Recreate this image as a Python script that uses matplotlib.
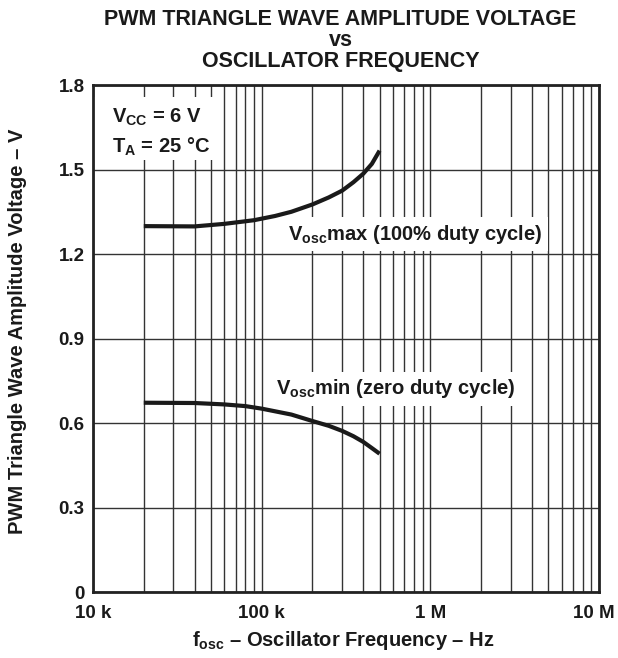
import matplotlib.pyplot as plt
from matplotlib.patches import Rectangle
from matplotlib.transforms import ScaledTranslation
from matplotlib.ticker import FixedLocator, LogLocator, NullFormatter

plt.rcParams['font.family'] = ['Liberation Sans', 'DejaVu Sans']
plt.rcParams['mathtext.fontset'] = 'custom'
plt.rcParams['mathtext.rm'] = 'Liberation Sans:bold'
plt.rcParams['mathtext.bf'] = 'Liberation Sans:bold'
plt.rcParams['mathtext.it'] = 'Liberation Sans:bold'

# Datos
freq_max = [20e3, 40e3, 60e3, 90e3, 120e3, 150e3, 200e3, 250e3, 300e3, 350e3, 400e3, 450e3, 500e3]
vosc_max = [1.299, 1.298, 1.307, 1.320, 1.335, 1.350, 1.376, 1.401, 1.425, 1.455, 1.485, 1.52, 1.567]

freq_min = [20e3, 40e3, 60e3, 80e3, 100e3, 150e3, 200e3, 250e3, 300e3, 350e3, 400e3, 450e3, 500e3]
vosc_min = [0.672, 0.671, 0.666, 0.660, 0.651, 0.630, 0.607, 0.590, 0.572, 0.553, 0.533, 0.511, 0.491]

x_ticks = [1e4, 1e5, 1e6, 1e7]
x_labels = ['10 k', '100 k', '1 M', '10 M']
y_ticks = [0, 0.3, 0.6, 0.9, 1.2, 1.5, 1.8]
y_labels = ['0', '0.3', '0.6', '0.9', '1.2', '1.5', '1.8']

fig = plt.figure(figsize=(6.18, 6.58), dpi=100)
ax = fig.add_axes([0.1505, 0.1003, 0.8188, 0.7705])

ax.set_xscale('log')
ax.set_xlim(1e4, 1e7)
ax.set_ylim(0, 1.8)
ax.set_axisbelow(True)

ax.plot(freq_max, vosc_max, color='#1a1a1a', lw=3, solid_capstyle='butt',
        solid_joinstyle='round', zorder=3)
ax.plot(freq_min, vosc_min, color='#1a1a1a', lw=3, solid_capstyle='butt',
        solid_joinstyle='round', zorder=3)

ax.xaxis.set_major_locator(FixedLocator(x_ticks))
ax.set_xticklabels(x_labels)
ax.xaxis.set_minor_locator(LogLocator(base=10, subs=range(2, 10)))
ax.xaxis.set_minor_formatter(NullFormatter())
ax.set_yticks(y_ticks)
ax.set_yticklabels(y_labels)
ax.tick_params(which='both', length=0, labelsize=13.5)
ax.tick_params(axis='x', pad=9)
ax.tick_params(axis='y', pad=6)
for lbl in ax.get_xticklabels() + ax.get_yticklabels():
    lbl.set_fontweight('bold')
    lbl.set_color('#1a1a1a')
# el "10 M" se corre un poco a la izquierda para no cortarse
last = ax.get_xticklabels()[-1]
last.set_transform(last.get_transform() + ScaledTranslation(-0.05, 0, fig.dpi_scale_trans))

ax.grid(True, which='both', axis='x', color='#333333', lw=1)
ax.grid(True, which='major', axis='y', color='#333333', lw=1)
for s in ax.spines.values():
    s.set_linewidth(2)
    s.set_color('#222222')
    s.set_zorder(5)

# recuadro blanco de condiciones
ax.add_patch(Rectangle((0, 0.852), 0.251, 0.124, transform=ax.transAxes,
                       facecolor='white', edgecolor='none', zorder=1))
ax.text(0.0375, 0.937, '$\\mathbf{V_{CC}}$ = 6 V', transform=ax.transAxes,
        ha='left', va='center', fontsize=14.5, fontweight='bold', color='#1a1a1a', zorder=4)
ax.text(0.0375, 0.878, '$\\mathbf{T_A}$ = 25 °C', transform=ax.transAxes,
        ha='left', va='center', fontsize=14.5, fontweight='bold', color='#1a1a1a', zorder=4)

box = dict(facecolor='white', edgecolor='none', pad=4)
ax.text(8.1e5, 1.27, '$\\mathbf{V_{osc}}$max (100% duty cycle)', ha='center', va='center',
        fontsize=14.5, fontweight='bold', color='#1a1a1a', bbox=box, zorder=4)
ax.text(6.25e5, 0.722, '$\\mathbf{V_{osc}}$min (zero duty cycle)', ha='center', va='center',
        fontsize=14.5, fontweight='bold', color='#1a1a1a', bbox=box, zorder=4)

fig.text(0.551, 0.939, 'PWM TRIANGLE WAVE AMPLITUDE VOLTAGE\nvs\nOSCILLATOR FREQUENCY',
         ha='center', va='center', fontsize=15.5, fontweight='bold', linespacing=1.0,
         color='#1a1a1a')
ax.set_xlabel('$\\mathbf{f_{osc}}$ – Oscillator Frequency – Hz', fontsize=14.5,
              fontweight='bold', color='#1a1a1a')
ax.xaxis.set_label_coords(0.494, -0.095)
ax.xaxis.label.set_va('center')
ax.set_ylabel('PWM Triangle Wave Amplitude Voltage – V', fontsize=14.5,
              fontweight='bold', color='#1a1a1a')
ax.yaxis.set_label_coords(-0.150, 0.515)
ax.yaxis.label.set_va('center')

fig.savefig('out.png', dpi=100)
